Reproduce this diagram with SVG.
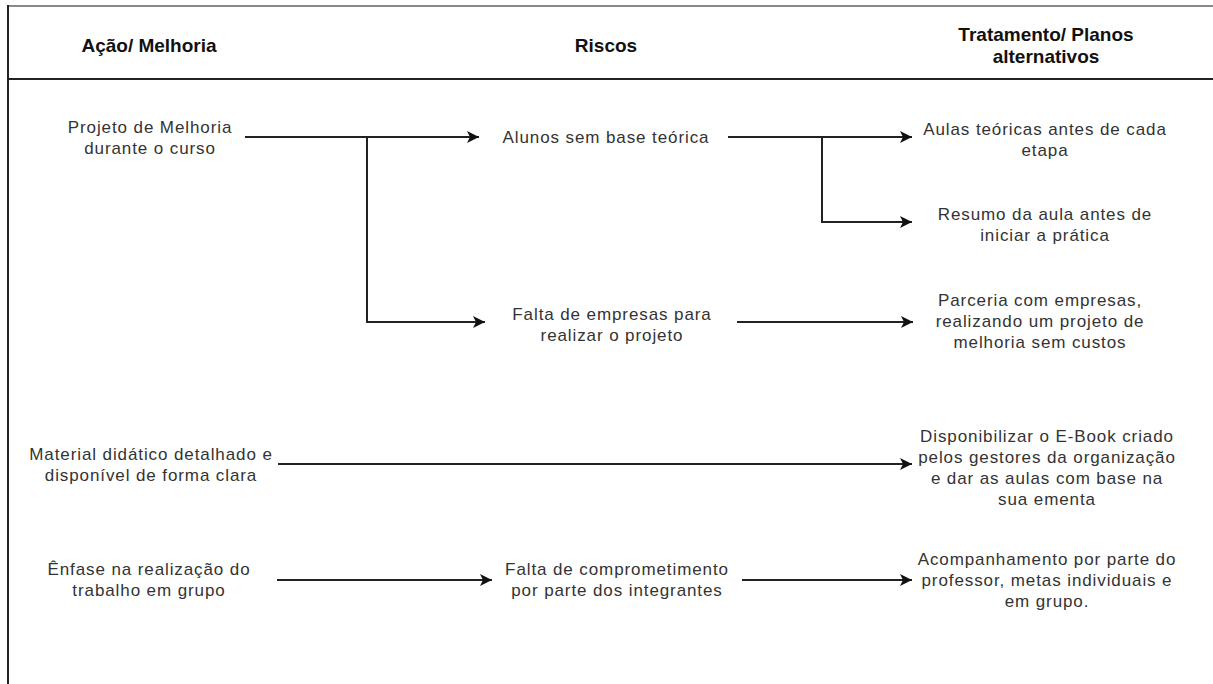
<svg xmlns="http://www.w3.org/2000/svg" width="1213" height="684" viewBox="0 0 1213 684">
  <defs>
    <marker id="arrow" markerUnits="userSpaceOnUse" markerWidth="14" markerHeight="12" refX="12" refY="6" orient="auto">
      <path d="M0,0 L12,6 L0,12 L3,6 Z" fill="#111"/>
    </marker>
    <style>
      .frame { stroke: #222; stroke-width: 2; fill: none; }
      .topline { stroke: #888; stroke-width: 2; fill: none; }
      .edge { stroke: #222; stroke-width: 2; fill: none; }
      .arr { marker-end: url(#arrow); }
      .head { font-family: "Liberation Sans", Arial, sans-serif; font-size: 19px; font-weight: bold; fill: #111; text-anchor: middle; }
      .lbl { font-family: "Liberation Sans", Arial, sans-serif; font-size: 17px; letter-spacing: 0.9px; fill: #333; text-anchor: middle; }
    </style>
  </defs>
  <rect width="1213" height="684" fill="#fff"/>

  <!-- table frame -->
  <g id="frame">
    <line class="topline" x1="7" y1="6" x2="1213" y2="6"/>
    <line class="frame" x1="8" y1="5" x2="8" y2="684"/>
    <line class="frame" x1="8" y1="79" x2="1213" y2="79"/>
  </g>

  <!-- column headers -->
  <g id="header-acao"><text class="head" x="149" y="52">Ação/ Melhoria</text></g>
  <g id="header-riscos"><text class="head" x="606" y="52">Riscos</text></g>
  <g id="header-tratamento">
    <text class="head" x="1046" y="41">Tratamento/ Planos</text>
    <text class="head" x="1046" y="63">alternativos</text>
  </g>

  <!-- connectors -->
  <g id="connectors">
    <path class="edge arr" d="M245,137 H479"/>
    <path class="edge arr" d="M367,137 V322 H485"/>
    <path class="edge arr" d="M728,137 H912"/>
    <path class="edge arr" d="M822,137 V222 H912"/>
    <path class="edge arr" d="M737,322 H913"/>
    <path class="edge arr" d="M278,464 H912"/>
    <path class="edge arr" d="M277,580 H492"/>
    <path class="edge arr" d="M742,580 H912"/>
  </g>

  <!-- actions -->
  <g id="projeto">
    <text class="lbl" x="150" y="133">Projeto de Melhoria</text>
    <text class="lbl" x="150" y="154">durante o curso</text>
  </g>
  <g id="material">
    <text class="lbl" x="151" y="460">Material didático detalhado e</text>
    <text class="lbl" x="151" y="481">disponível de forma clara</text>
  </g>
  <g id="enfase">
    <text class="lbl" x="149" y="575">Ênfase na realização do</text>
    <text class="lbl" x="149" y="596">trabalho em grupo</text>
  </g>

  <!-- risks -->
  <g id="alunos"><text class="lbl" x="606" y="143">Alunos sem base teórica</text></g>
  <g id="falta-empresas">
    <text class="lbl" x="612" y="320">Falta de empresas para</text>
    <text class="lbl" x="612" y="341">realizar o projeto</text>
  </g>
  <g id="falta-comprometimento">
    <text class="lbl" x="617" y="575">Falta de comprometimento</text>
    <text class="lbl" x="617" y="596">por parte dos integrantes</text>
  </g>

  <!-- treatments -->
  <g id="aulas">
    <text class="lbl" x="1045" y="135">Aulas teóricas antes de cada</text>
    <text class="lbl" x="1045" y="156">etapa</text>
  </g>
  <g id="resumo">
    <text class="lbl" x="1045" y="220">Resumo da aula antes de</text>
    <text class="lbl" x="1045" y="241">iniciar a prática</text>
  </g>
  <g id="parceria">
    <text class="lbl" x="1040" y="306">Parceria com empresas,</text>
    <text class="lbl" x="1040" y="327">realizando um projeto de</text>
    <text class="lbl" x="1040" y="348">melhoria sem custos</text>
  </g>
  <g id="ebook">
    <text class="lbl" x="1047" y="442">Disponibilizar o E-Book criado</text>
    <text class="lbl" x="1047" y="463">pelos gestores da organização</text>
    <text class="lbl" x="1047" y="484">e dar as aulas com base na</text>
    <text class="lbl" x="1047" y="505">sua ementa</text>
  </g>
  <g id="acompanhamento">
    <text class="lbl" x="1047" y="565">Acompanhamento por parte do</text>
    <text class="lbl" x="1047" y="586">professor, metas individuais e</text>
    <text class="lbl" x="1047" y="607">em grupo.</text>
  </g>
</svg>
